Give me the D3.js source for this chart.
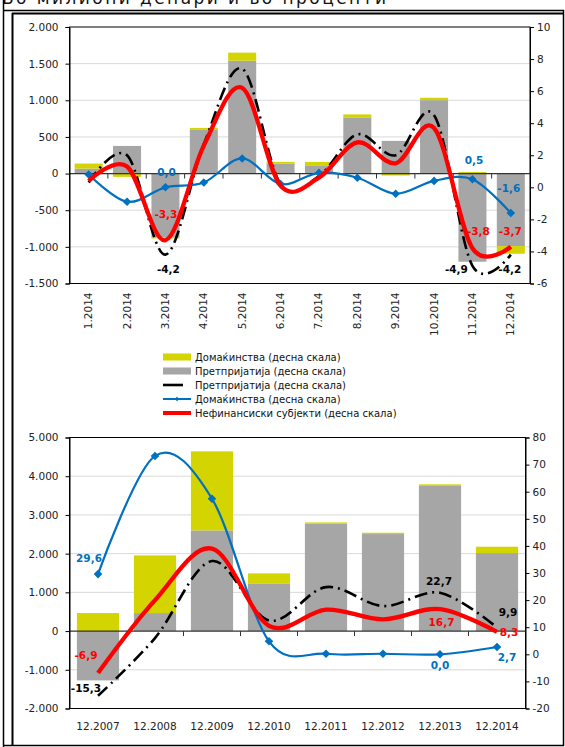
<!DOCTYPE html>
<html lang="mk">
<head>
  <meta charset="UTF-8">
  <title>Кредити</title>
  <style>
    body { margin: 0; background: #fff; }
    svg { display: block; font-family: "DejaVu Sans", sans-serif; }
    .tick text { fill: #222; font-size: 10.5px; }
    .lbl { font-size: 10.5px; font-weight: bold; text-anchor: middle; }
    .legend text { font-size: 10px; fill: #111; }
  </style>
</head>
<body>
<svg width="565" height="747"></svg>

<script src="https://cdn.jsdelivr.net/npm/d3@7"></script>
<script>
  // top chart: monthly changes 2014
  const monthsTop = ["1.2014", "2.2014", "3.2014", "4.2014", "5.2014", "6.2014",
    "7.2014", "8.2014", "9.2014", "10.2014", "11.2014", "12.2014"];
  const entBarTop = [68, 377, -875, 596, 1540, 137, 104, 766, 446, 1002, -1203, -990];
  const hhBarTop = [69, -45, -10, 27, 110, 22, 55, 41, -27, 32, 22, -104];
  const entLineTop = [0.3, 2.0, -4.2, 2.7, 7.4, 0.2, 0.7, 3.3, 2.0, 4.5, -4.9, -4.2];
  const hhLineTop = [0.8, -0.9, 0.0, 0.3, 1.8, 0.2, 0.9, 0.6, -0.4, 0.4, 0.5, -1.6];
  const nfLineTop = [0.4, 1.3, -3.3, 2.6, 6.2, 0.1, 0.6, 2.8, 1.5, 3.7, -3.8, -3.7];
  const leftTicksTop = [-1500, -1000, -500, 0, 500, 1000, 1500, 2000];
  const rightTicksTop = [-6, -4, -2, 0, 2, 4, 6, 8, 10];

  // bottom chart: yearly changes
  const yearsBot = ["12.2007", "12.2008", "12.2009", "12.2010", "12.2011", "12.2012", "12.2013", "12.2014"];
  const entBarBot = [-1274, 465, 2600, 1231, 2773, 2506, 3764, 2015];
  const hhBarBot = [465, 1490, 2042, 259, 34, 34, 26, 164];
  const entLineBot = [-15.3, 6.0, 34.4, 12.5, 24.8, 17.8, 22.7, 9.9];
  const hhLineBot = [29.6, 73.2, 57.4, 4.8, 0.2, 0.2, 0.0, 2.7];
  const nfLineBot = [-6.9, 20.0, 39.0, 10.5, 16.5, 12.9, 16.7, 8.3];
  const leftTicksBot = [-2000, -1000, 0, 1000, 2000, 3000, 4000, 5000];
  const rightTicksBot = [-20, -10, 0, 10, 20, 30, 40, 50, 60, 70, 80];

  const legendLabels = [
    "Домаќинства (десна скала)",
    "Претпријатија (десна скала)",
    "Претпријатија (десна скала)",
    "Домаќинства (десна скала)",
    "Нефинансиски субјекти (десна скала)"
  ];

  const C = { hh: "#d4d400", ent: "#a6a6a6", black: "#000", blue: "#0070c0", red: "#ff0000" };

  const loc = d3.formatLocale({ decimal: ",", thousands: ".", grouping: [3], currency: ["", ""], minus: "-" });
  const fmtLeft = loc.format(",.0f");
  const fmtRight = loc.format(".0f");
  const fmtLbl = loc.format(".1f");

  const svg = d3.select("svg");

  // page title (mostly cut off at top)
  svg.append("text")
    .attr("x", 2).attr("y", 4)
    .attr("font-size", 17)
    .attr("textLength", 384)
    .attr("fill", "#111")
    .text("Во милиони денари и во проценти");

  // frame
  svg.append("path")
    .attr("d", "M3.5,0 V747 M3.5,10.5 H563.5 V745.5 H3.5")
    .attr("fill", "none").attr("stroke", "#000").attr("stroke-width", 1.5);
  svg.append("path")
    .attr("d", "M12.5,13 V745 M12,13.5 H563")
    .attr("fill", "none").attr("stroke", "#000").attr("stroke-width", 2);

  const diamond = {
    draw(ctx, size) {
      const r = Math.sqrt(size) * 0.62;
      ctx.moveTo(0, -r); ctx.lineTo(r, 0); ctx.lineTo(0, r); ctx.lineTo(-r, 0); ctx.closePath();
    }
  };

  function drawChart(cfg) {
    const g = svg.append("g");
    const x = d3.scaleBand().domain(cfg.cats).range([cfg.left, cfg.right])
      .paddingInner(cfg.pad).paddingOuter(cfg.pad / 2);
    const yL = d3.scaleLinear().domain(cfg.leftDomain).range([cfg.bottom, cfg.top]);
    const yR = d3.scaleLinear().domain(cfg.rightDomain).range([cfg.bottom, cfg.top]);

    // gridlines
    g.append("g").selectAll("line")
      .data(cfg.leftTicks.filter(d => d !== 0 && d !== cfg.leftDomain[0] && d !== cfg.leftDomain[1]))
      .join("line")
      .attr("x1", cfg.left).attr("x2", cfg.right)
      .attr("y1", d => yL(d)).attr("y2", d => yL(d))
      .attr("stroke", "#d9d9d9").attr("stroke-width", 1);

    // stacked bars
    const rows = cfg.cats.map((c, i) => ({ cat: c, ent: cfg.entBar[i], hh: cfg.hhBar[i] }));
    const series = d3.stack().keys(["ent", "hh"]).offset(d3.stackOffsetDiverging)(rows);
    g.append("g").selectAll("g")
      .data(series)
      .join("g")
      .attr("fill", d => C[d.key])
      .selectAll("rect")
      .data(d => d)
      .join("rect")
      .attr("x", d => x(d.data.cat))
      .attr("width", x.bandwidth())
      .attr("y", d => yL(Math.max(d[0], d[1])))
      .attr("height", d => Math.abs(yL(d[0]) - yL(d[1])));

    // plot border
    g.append("rect")
      .attr("x", cfg.left).attr("y", cfg.top)
      .attr("width", cfg.right - cfg.left).attr("height", cfg.bottom - cfg.top)
      .attr("fill", "none").attr("stroke", "#000").attr("stroke-width", 1);

    // zero axis with category ticks
    const y0 = yL(0);
    g.append("line")
      .attr("x1", cfg.left).attr("x2", cfg.right)
      .attr("y1", y0).attr("y2", y0)
      .attr("stroke", "#333").attr("stroke-width", 1.2);
    g.append("g").selectAll("line")
      .data(cfg.cats.slice(1))
      .join("line")
      .attr("x1", d => x(d) - x.step() * x.paddingInner() / 2)
      .attr("x2", d => x(d) - x.step() * x.paddingInner() / 2)
      .attr("y1", y0).attr("y2", y0 + 5)
      .attr("stroke", "#333");

    // axes
    const axL = g.append("g").attr("transform", `translate(${cfg.left},0)`)
      .call(d3.axisLeft(yL).tickValues(cfg.leftTicks).tickFormat(fmtLeft).tickSize(4).tickPadding(7));
    const axR = g.append("g").attr("transform", `translate(${cfg.right},0)`)
      .call(d3.axisRight(yR).tickValues(cfg.rightTicks).tickFormat(fmtRight).tickSize(4).tickPadding(3));
    [axL, axR].forEach(a => {
      a.select(".domain").attr("stroke", "#000");
      a.selectAll(".tick line").attr("stroke", "#000");
      a.selectAll(".tick text").attr("font-family", "DejaVu Sans");
    });

    // category labels
    const cx = d => x(d) + x.bandwidth() / 2;
    if (cfg.rotate) {
      g.append("g").selectAll("text")
        .data(cfg.cats)
        .join("text")
        .attr("transform", d => `translate(${cx(d) + 3.5},${cfg.bottom + 9}) rotate(-90)`)
        .attr("text-anchor", "end")
        .attr("font-size", 10.5).attr("fill", "#222")
        .text(d => d);
    } else {
      g.append("g").selectAll("text")
        .data(cfg.cats)
        .join("text")
        .attr("x", cx).attr("y", cfg.bottom + 21)
        .attr("text-anchor", "middle")
        .attr("font-size", 10.5).attr("fill", "#222")
        .text(d => d);
    }

    // lines
    const line = d3.line()
      .x((d, i) => cx(cfg.cats[i]))
      .y(d => yR(d))
      .curve(d3.curveCatmullRom.alpha(0));

    g.append("path").datum(cfg.entLine)
      .attr("d", line).attr("fill", "none")
      .attr("stroke", C.black).attr("stroke-width", 2.6)
      .attr("stroke-dasharray", "13,5,2,5");
    g.append("path").datum(cfg.hhLine)
      .attr("d", line).attr("fill", "none")
      .attr("stroke", C.blue).attr("stroke-width", 2.2);
    g.append("g").selectAll("path")
      .data(cfg.hhLine)
      .join("path")
      .attr("transform", (d, i) => `translate(${cx(cfg.cats[i])},${yR(d)})`)
      .attr("d", d3.symbol(diamond, 48))
      .attr("fill", C.blue);
    g.append("path").datum(cfg.nfLine)
      .attr("d", line).attr("fill", "none")
      .attr("stroke", C.red).attr("stroke-width", 4.3);

    // value labels
    const series3 = { ent: cfg.entLine, hh: cfg.hhLine, nf: cfg.nfLine };
    const lblColor = { ent: C.black, hh: C.blue, nf: C.red };
    g.append("g").selectAll("text")
      .data(cfg.labels)
      .join("text")
      .attr("class", "lbl")
      .attr("x", d => cx(cfg.cats[d.i]) + d.dx)
      .attr("y", d => yR(series3[d.s][d.i]) + d.dy)
      .attr("fill", d => lblColor[d.s])
      .text(d => fmtLbl(series3[d.s][d.i]));
  }

  drawChart({
    cats: monthsTop, entBar: entBarTop, hhBar: hhBarTop,
    entLine: entLineTop, hhLine: hhLineTop, nfLine: nfLineTop,
    leftDomain: [-1500, 2000], rightDomain: [-6, 10],
    leftTicks: leftTicksTop, rightTicks: rightTicksTop,
    left: 69.5, right: 530, top: 27, bottom: 283.5, pad: 0.27, rotate: true,
    labels: [
      { s: "hh", i: 2, dx: 1, dy: -11.5 },
      { s: "nf", i: 2, dx: 0.5, dy: -22.5 },
      { s: "ent", i: 2, dx: 3, dy: 18 },
      { s: "hh", i: 10, dx: 1.5, dy: -15.5 },
      { s: "hh", i: 11, dx: -2, dy: -21 },
      { s: "nf", i: 10, dx: 6, dy: -13.5 },
      { s: "nf", i: 11, dx: -0.5, dy: -11.5 },
      { s: "ent", i: 10, dx: -16, dy: 7 },
      { s: "ent", i: 11, dx: -1, dy: 18 }
    ]
  });

  drawChart({
    cats: yearsBot, entBar: entBarBot, hhBar: hhBarBot,
    entLine: entLineBot, hhLine: hhLineBot, nfLine: nfLineBot,
    leftDomain: [-2000, 5000], rightDomain: [-20, 80],
    leftTicks: leftTicksBot, rightTicks: rightTicksBot,
    left: 69.5, right: 525.5, top: 437.5, bottom: 708.5, pad: 0.26, rotate: false,
    labels: [
      { s: "hh", i: 0, dx: -9, dy: -12 },
      { s: "nf", i: 0, dx: -12, dy: -13.5 },
      { s: "ent", i: 0, dx: -12, dy: -3.5 },
      { s: "ent", i: 6, dx: -1, dy: -7.5 },
      { s: "nf", i: 6, dx: 1.5, dy: 17 },
      { s: "hh", i: 6, dx: 0, dy: 15 },
      { s: "ent", i: 7, dx: 11, dy: -11 },
      { s: "nf", i: 7, dx: 12, dy: 4.5 },
      { s: "hh", i: 7, dx: 10, dy: 14 }
    ]
  });

  // legend
  const legend = svg.append("g").attr("class", "legend");
  const ly = i => 357 + i * 14;
  legend.append("rect").attr("x", 163).attr("y", ly(0) - 3.5).attr("width", 28).attr("height", 7).attr("fill", C.hh);
  legend.append("rect").attr("x", 163).attr("y", ly(1) - 3.5).attr("width", 28).attr("height", 7).attr("fill", C.ent);
  legend.append("line").attr("x1", 163).attr("x2", 183).attr("y1", ly(2)).attr("y2", ly(2))
    .attr("stroke", C.black).attr("stroke-width", 2.6);
  legend.append("line").attr("x1", 163).attr("x2", 191).attr("y1", ly(3)).attr("y2", ly(3))
    .attr("stroke", C.blue).attr("stroke-width", 2);
  legend.append("path").attr("transform", `translate(177,${ly(3)})`)
    .attr("d", d3.symbol(diamond, 14)).attr("fill", C.blue);
  legend.append("line").attr("x1", 163).attr("x2", 191).attr("y1", ly(4)).attr("y2", ly(4))
    .attr("stroke", C.red).attr("stroke-width", 4);
  legend.selectAll("text.item")
    .data(legendLabels)
    .join("text")
    .attr("class", "item")
    .attr("x", 195)
    .attr("y", (d, i) => ly(i) + 3.5)
    .text(d => d);
</script>
</body>
</html>
